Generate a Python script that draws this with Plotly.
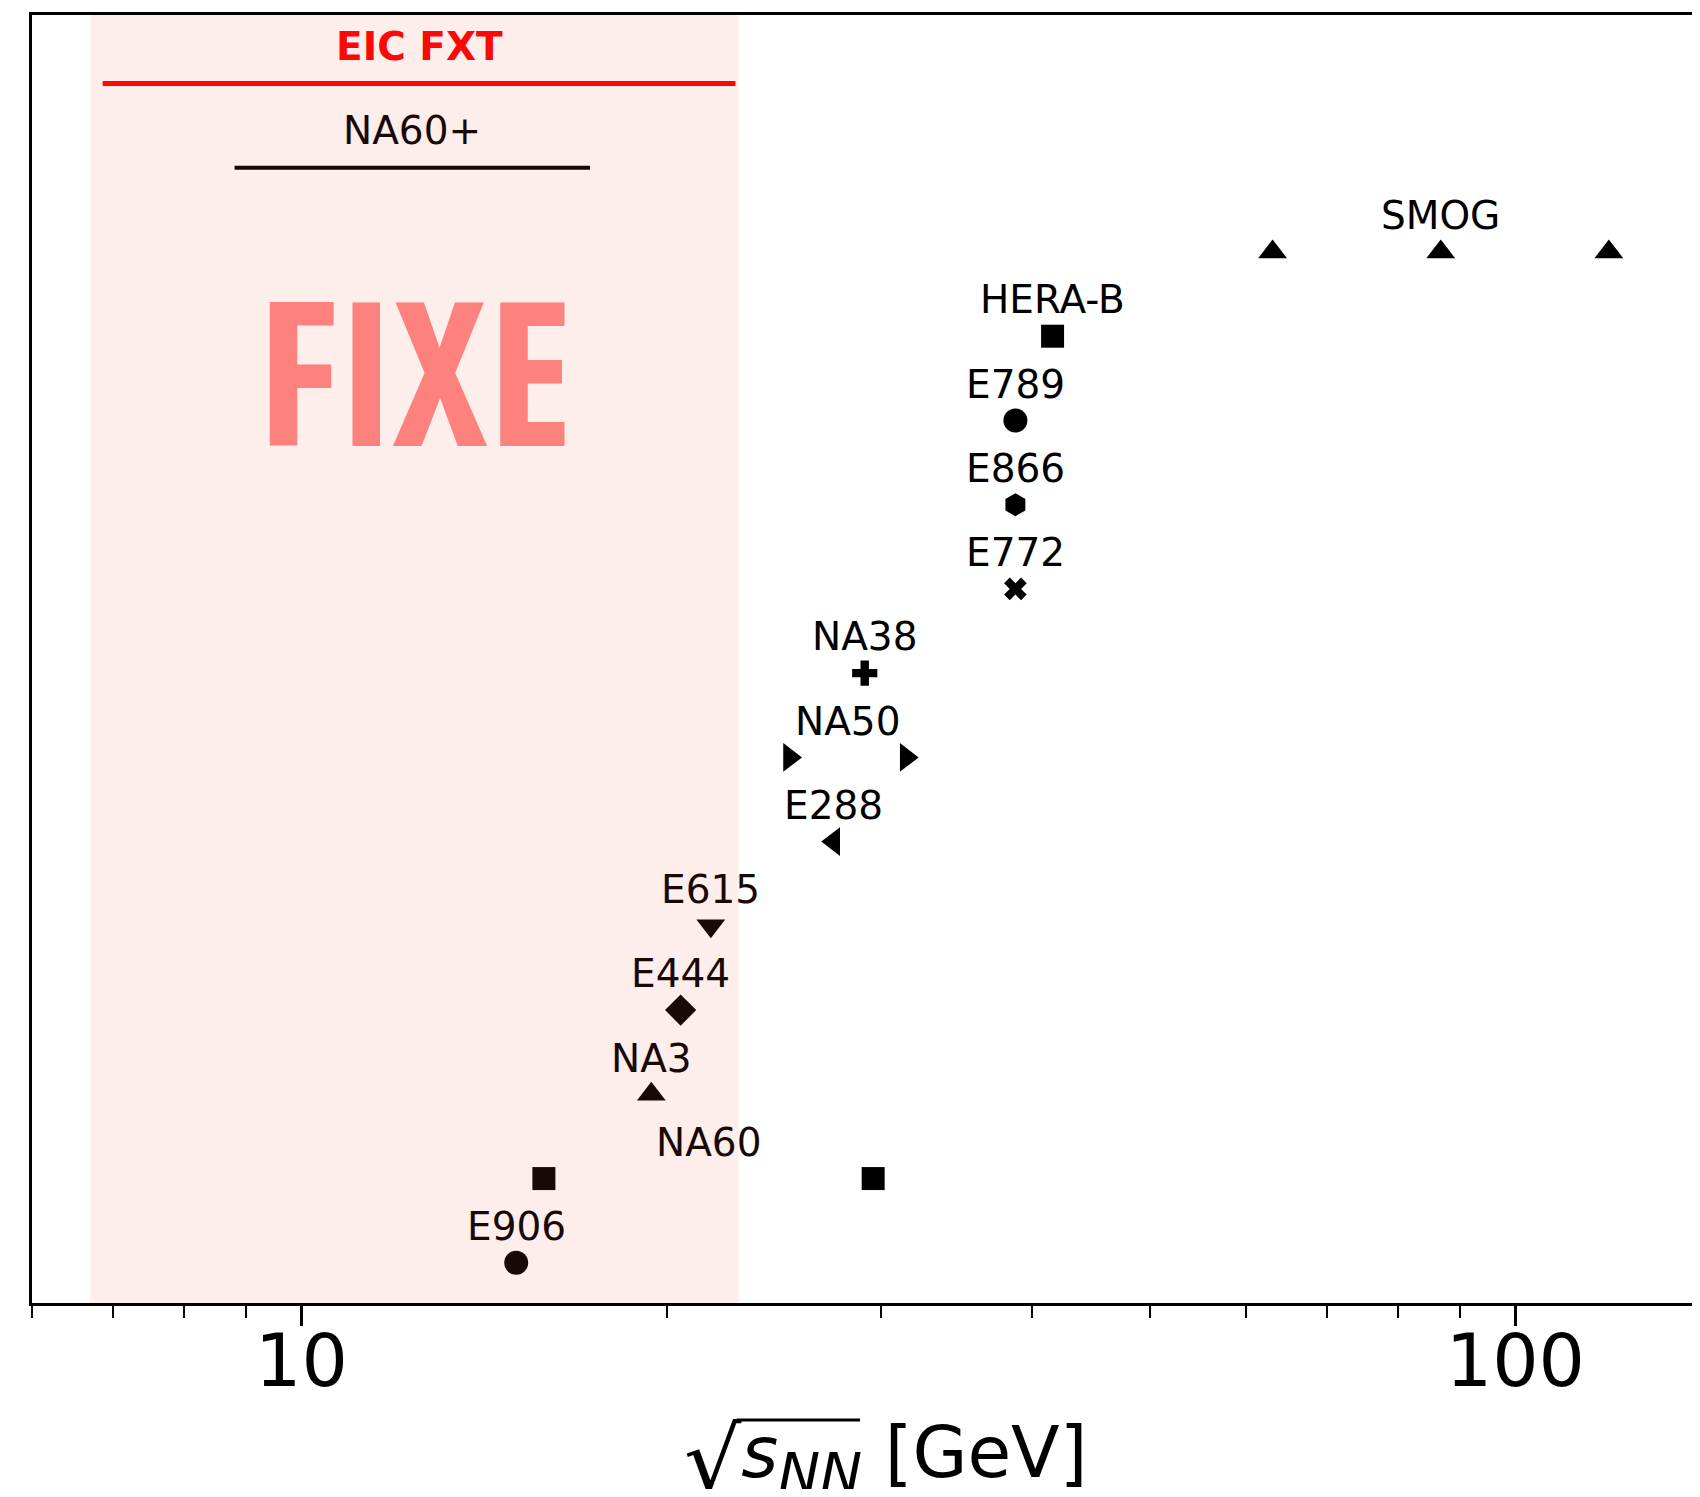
import numpy as np
import plotly.graph_objects as go

# ---------------- data ----------------
EXPERIMENTS = ["E906", "NA60", "NA3", "E444", "E615", "E288", "NA50",
               "NA38", "E772", "E866", "E789", "HERA-B", "SMOG"]
ROWS = [1, 2, 3, 4, 5, 6, 7, 8, 9, 10, 11, 12, 13]
ENERGIES = [[15.03], [15.84, 29.58], [19.42], [20.53], [21.74], [27.45],
            [25.24, 31.49], [29.11], [38.74], [38.74], [38.74], [41.57],
            [63.1, 86.8, 119.4]]

FUTURE = ["EIC FXT", "NA60+"]
FUTURE_ROWS = [15, 14]
FUTURE_RANGES = [[6.86, 22.78], [8.81, 17.29]]

BAND_RANGE = [6.70, 22.91]
FIXE_TEXT = "FIXE"
FIXE_POS = [12.40, 11.62]

X_TICKS = [10, 100]
X_TICK_TEXT = ["10", "100"]
X_MINOR = [6, 7, 8, 9, 20, 30, 40, 50, 60, 70, 80, 90]

# ---------------- styles ----------------
SYMBOLS = {"E906": ("circle", 24), "NA60": ("square", 23), "NA3": ("triangle-up", 25),
           "E444": ("diamond", 24), "E615": ("triangle-down", 25), "E288": ("triangle-left", 25),
           "NA50": ("triangle-right", 25), "NA38": ("cross", 21), "E772": ("x", 20),
           "E866": ("hexagon", 23), "E789": ("circle", 24), "HERA-B": ("square", 23),
           "SMOG": ("triangle-up", 25)}
FONT = "DejaVu Sans"
LABEL_SIZE = 39
LABEL_DY = 0.43

fig = go.Figure()

for name, row, en in zip(EXPERIMENTS, ROWS, ENERGIES):
    sym, size = SYMBOLS[name]
    fig.add_trace(go.Scatter(x=en, y=[row] * len(en), mode="markers",
                             marker=dict(symbol=sym, size=size, color="black",
                                         line=dict(width=0)),
                             showlegend=False, hoverinfo="skip"))

line_colors = ["#ff0000", "#000000"]
line_widths = [5, 4]
for name, row, rng, c, w in zip(FUTURE, FUTURE_ROWS, FUTURE_RANGES, line_colors, line_widths):
    fig.add_trace(go.Scatter(x=rng, y=[row, row], mode="lines",
                             line=dict(color=c, width=w),
                             showlegend=False, hoverinfo="skip"))

def in_band(v):
    return BAND_RANGE[0] < v < BAND_RANGE[1]

annotations = []
for name, row, en in zip(EXPERIMENTS, ROWS, ENERGIES):
    xl = float(np.exp(np.mean(np.log(en))))
    col = "#180806" if in_band(xl) else "#000000"
    annotations.append(dict(x=np.log10(xl), y=row + LABEL_DY, xref="x", yref="y",
                            text=name, showarrow=False, xanchor="center", yanchor="middle",
                            font=dict(family=FONT, size=LABEL_SIZE, color=col)))

for i, (name, row, rng) in enumerate(zip(FUTURE, FUTURE_ROWS, FUTURE_RANGES)):
    xl = float(np.sqrt(rng[0] * rng[1]))
    if i == 0:
        txt = "<b>%s</b>" % name
        col = "#fd0806"
    else:
        txt = name
        col = "#180806"
    annotations.append(dict(x=np.log10(xl), y=row + LABEL_DY + 0.01, xref="x", yref="y",
                            text=txt, showarrow=False, xanchor="center", yanchor="middle",
                            font=dict(family=FONT, size=39, color=col)))

annotations.append(dict(x=np.log10(FIXE_POS[0]), y=FIXE_POS[1], xref="x", yref="y",
                        text="<span style='font-stretch:75%%'><b>%s</b></span>" % FIXE_TEXT,
                        showarrow=False, xanchor="center", yanchor="middle",
                        font=dict(family="Open Sans", size=200, color="#fd817d")))

# x-axis title
annotations.append(dict(x=0.5114, y=-0.1219, xref="paper", yref="paper",
                        text="<sub><span style='font-size:90px'>√</span></sub><i>s</i><sub><i><span style='font-size:56px'>NN</span></i></sub> [GeV]",
                        showarrow=False, xanchor="center", yanchor="middle",
                        font=dict(family=FONT, size=71, color="black")))

shapes = [
    dict(type="rect", xref="x", yref="paper", x0=BAND_RANGE[0], x1=BAND_RANGE[1],
         y0=0, y1=1, fillcolor="rgba(235,75,55,0.1)", line=dict(width=0), layer="above"),
    dict(type="line", xref="paper", yref="paper", x0=0.4225, x1=0.4964, y0=-0.0908, y1=-0.0908,
         line=dict(color="black", width=3)),
]

# The page body has an 8px margin; figure sized so the plot maps onto the full window.
fig.update_layout(
    width=1692, height=1481,
    margin=dict(l=24, r=0, t=7, b=186),
    paper_bgcolor="white", plot_bgcolor="white",
    showlegend=False,
    annotations=annotations,
    shapes=shapes,
    xaxis=dict(type="log", range=[0.7781, 2.15208], showgrid=False, zeroline=False,
               showline=True, linecolor="black", linewidth=3, mirror=True,
               ticks="outside", tickvals=X_TICKS, ticktext=X_TICK_TEXT,
               ticklen=20, tickwidth=2.5, tickcolor="black",
               tickfont=dict(family=FONT, size=73, color="black"),
               ticklabelstandoff=-28,
               minor=dict(tickvals=X_MINOR, ticks="outside", ticklen=12, tickwidth=2,
                          tickcolor="black", showgrid=False)),
    yaxis=dict(range=[0.5228, 15.813], showgrid=False, zeroline=False,
               showline=True, linecolor="black", linewidth=3,
               showticklabels=False, ticks=""),
)

fig.write_html("out.html")
